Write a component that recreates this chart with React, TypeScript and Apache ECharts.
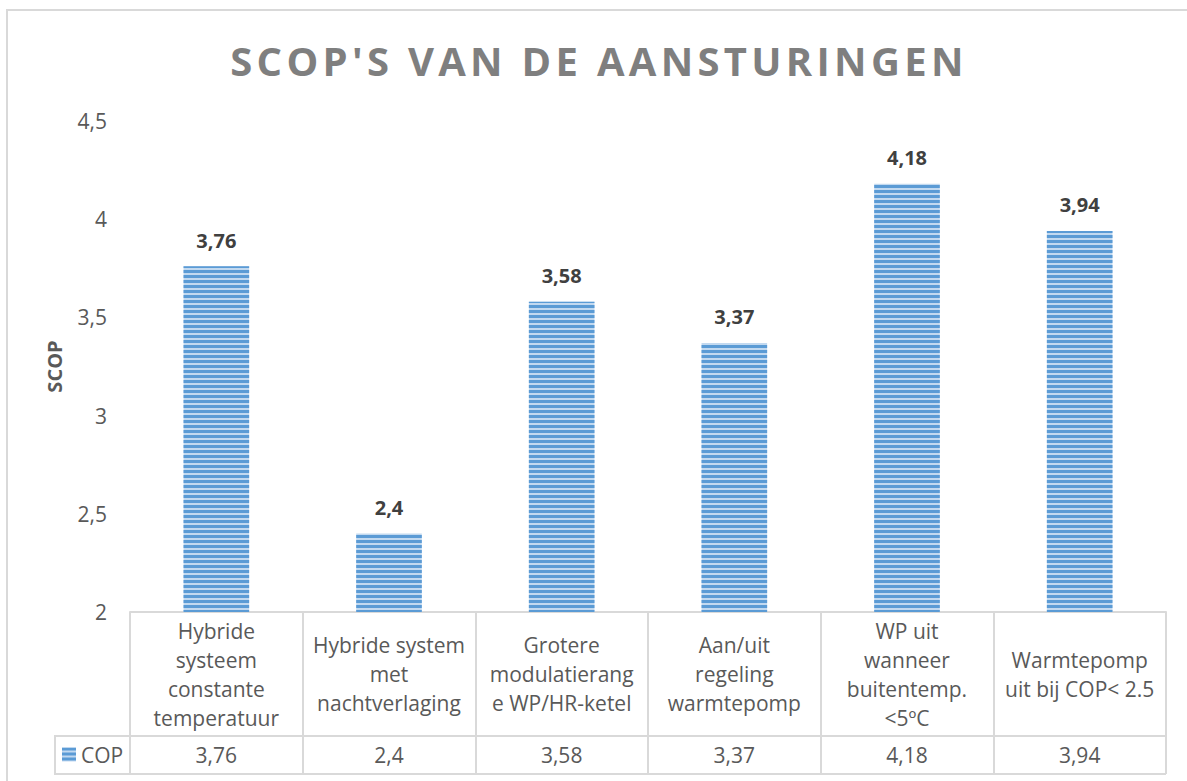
import React, { useEffect, useRef } from "react";
import * as echarts from "echarts";

const TITLE = "SCOP'S VAN DE AANSTURINGEN";
const categories = [
  "Hybride\nsysteem\nconstante\ntemperatuur",
  "Hybride system\nmet\nnachtverlaging",
  "Grotere\nmodulatierang\ne WP/HR-ketel",
  "Aan/uit\nregeling\nwarmtepomp",
  "WP uit\nwanneer\nbuitentemp.\n<5ºC",
  "Warmtepomp\nuit bij COP< 2.5",
];
const seriesName = "COP";
const values = [3.76, 2.4, 3.58, 3.37, 4.18, 3.94];
const yTicks = { min: 2, max: 4.5, interval: 0.5 };
const yAxisName = "SCOP";

const FONT = '"Open Sans", sans-serif';
const fmt = (v: number) => String(v).replace(".", ",");

export default function App() {
  const ref = useRef<HTMLDivElement>(null);
  useEffect(() => {
    const el = ref.current!;
    const chart = echarts.init(el, null, { renderer: "svg" });
    const gray = "#d9d9d9";
    chart.setOption({
      animation: false,
      backgroundColor: "#ffffff",
      grid: { left: 130, right: 21, top: 121, bottom: 169 },
      legend: {
        data: [seriesName],
        left: 62,
        top: 744,
        padding: 0,
        itemWidth: 14,
        itemHeight: 14,
        icon: "rect",
        textStyle: { fontSize: 21, color: "#595959", fontFamily: FONT },
      },
      xAxis: [
        {
          type: "category",
          data: categories,
          axisLine: { show: true, lineStyle: { color: gray, width: 2 } },
          axisTick: { show: true, length: 162, interval: 0, lineStyle: { color: gray, width: 2 } },
          splitLine: { show: false },
          axisLabel: {
            interval: 0,
            margin: 62,
            verticalAlign: "middle",
            align: "center",
            lineHeight: 29,
            fontSize: 21,
            color: "#595959",
            fontFamily: FONT,
          },
        },
        {
          type: "category",
          position: "bottom",
          data: values.map(fmt),
          axisLine: { show: false },
          axisTick: { show: false },
          axisLabel: {
            interval: 0,
            margin: 143,
            verticalAlign: "middle",
            align: "center",
            fontSize: 21,
            color: "#595959",
            fontFamily: FONT,
          },
        },
      ],
      yAxis: {
        type: "value",
        min: yTicks.min,
        max: yTicks.max,
        interval: yTicks.interval,
        name: yAxisName,
        nameLocation: "middle",
        nameRotate: 90,
        nameGap: 66,
        nameTextStyle: { fontSize: 20, fontWeight: "bold", color: "#595959", fontFamily: FONT },
        axisLine: { show: false },
        axisTick: { show: false },
        splitLine: { show: false },
        axisLabel: {
          margin: 23,
          fontSize: 21,
          color: "#595959",
          fontFamily: FONT,
          formatter: (v: number) => fmt(v),
        },
      },
      series: [
        {
          name: seriesName,
          type: "bar",
          data: values,
          barWidth: "38%",
          itemStyle: {
            color: "#c2d9f0",
            decal: {
              symbol: "rect",
              symbolSize: 1,
              dashArrayX: [1, 0],
              dashArrayY: [2.4, 1.9],
              rotation: 0,
              color: "#5b9bd5",
            },
          },
          label: {
            show: true,
            position: "top",
            distance: 16,
            fontSize: 20,
            fontWeight: "bold",
            color: "#404040",
            fontFamily: FONT,
            formatter: (p: any) => fmt(p.value),
          },
        },
      ],
      graphic: [
        {
          type: "rect",
          silent: true,
          shape: { x: 7, y: 10, width: 1300, height: 900 },
          style: { fill: "none", stroke: gray, lineWidth: 2 },
          z: -1,
        },
        {
          type: "text",
          silent: true,
          x: 599,
          y: 60,
          style: {
            text: TITLE,
            fontSize: 40,
            fontWeight: "bold",
            fontFamily: FONT,
            fill: "#7f7f7f",
            align: "center",
            verticalAlign: "middle",
          },
        },
        {
          type: "line",
          silent: true,
          shape: { x1: 55, y1: 736, x2: 1166, y2: 736 },
          style: { stroke: gray, lineWidth: 2 },
        },
        {
          type: "line",
          silent: true,
          shape: { x1: 55, y1: 774, x2: 1166, y2: 774 },
          style: { stroke: gray, lineWidth: 2 },
        },
        {
          type: "line",
          silent: true,
          shape: { x1: 55, y1: 735, x2: 55, y2: 775 },
          style: { stroke: gray, lineWidth: 2 },
        },
      ],
    });
    el.querySelectorAll("text").forEach((t) => {
      if (t.textContent === TITLE) {
        (t as SVGTextElement).style.letterSpacing = "4.3px";
      }
    });
    return () => chart.dispose();
  }, []);
  return (
    <div
      ref={ref}
      style={{ position: "absolute", left: 0, top: 0, width: 1187, height: 781 }}
    />
  );
}
